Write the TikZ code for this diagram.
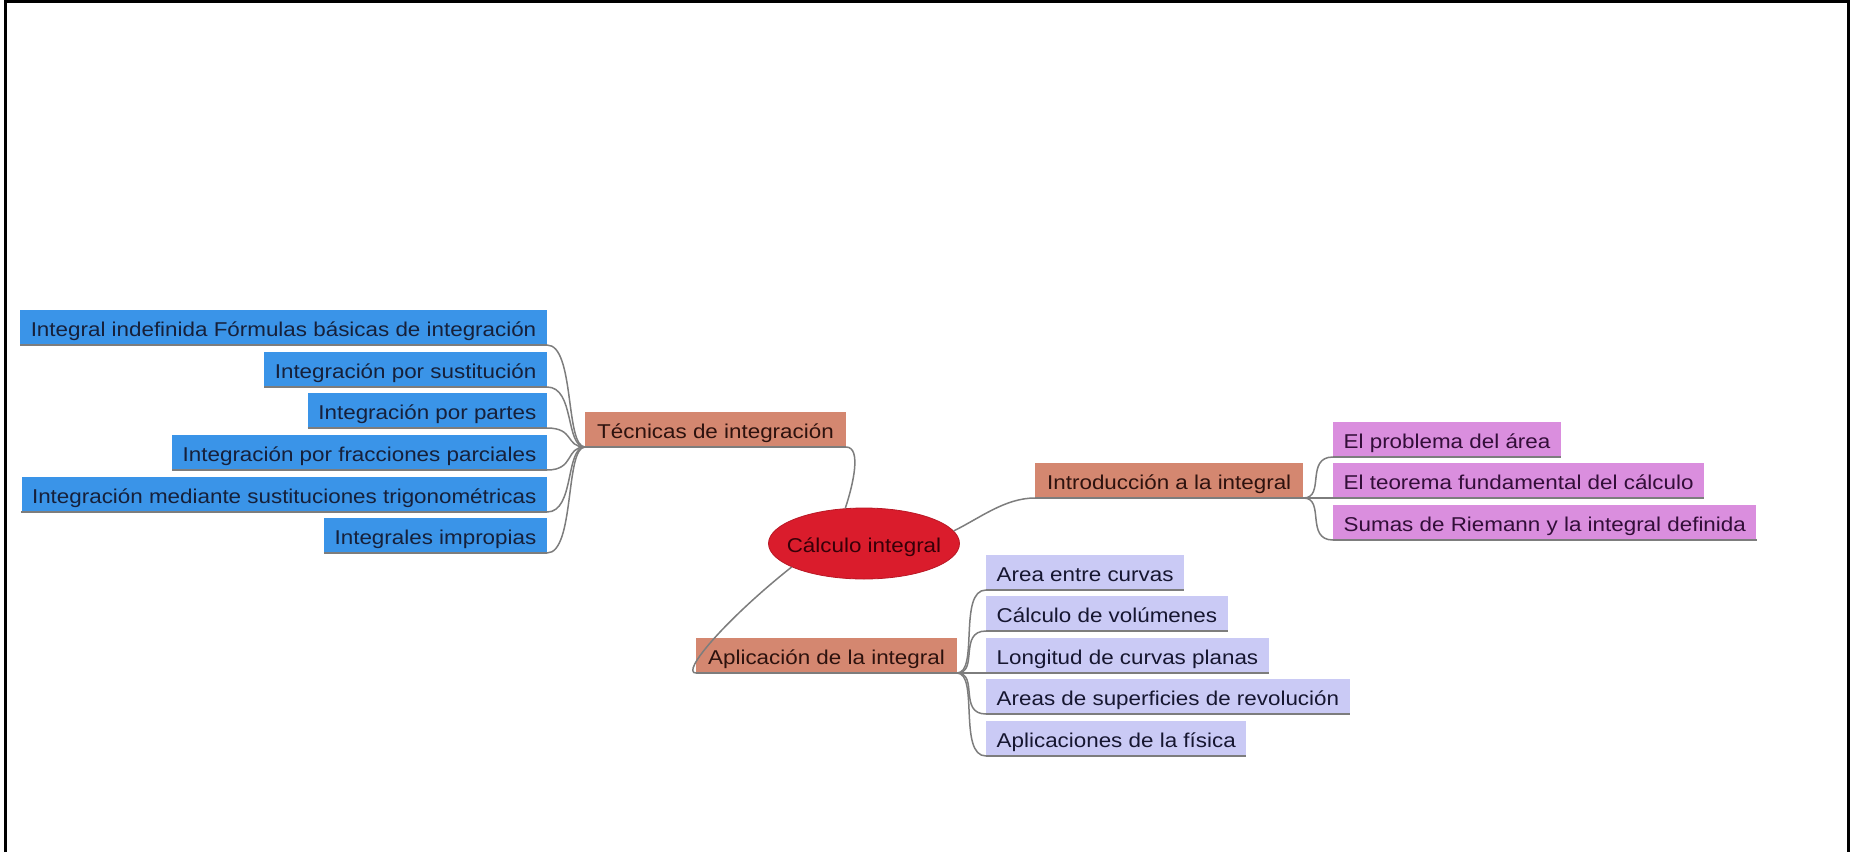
\documentclass[tikz,border=0pt]{standalone}
\usepackage{fontspec}
\setmainfont{Liberation Sans}[FakeStretch=1.12]
\usetikzlibrary{shapes.geometric}
\definecolor{bluebox}{RGB}{58,148,232}
\definecolor{bluetext}{RGB}{22,32,58}
\definecolor{brownbox}{RGB}{212,135,112}
\definecolor{browntext}{RGB}{45,18,14}
\definecolor{pinkbox}{RGB}{218,142,222}
\definecolor{pinktext}{RGB}{50,14,56}
\definecolor{lavbox}{RGB}{202,202,245}
\definecolor{lavtext}{RGB}{22,22,48}
\definecolor{redfill}{RGB}{218,28,44}
\definecolor{redtext}{RGB}{55,0,8}
\definecolor{linkgray}{RGB}{125,125,125}
\begin{document}
\begin{tikzpicture}[x=1pt,y=-1pt,
  every node/.style={font=\fontsize{20}{24}\selectfont},
  box/.style={rectangle, minimum height=35pt, inner ysep=0pt, inner xsep=10.5pt, text height=18pt, text depth=0pt},
  leftbox/.style={box, fill=bluebox, text=bluetext, anchor=south east},
  mainbox/.style={box, fill=brownbox, text=browntext, inner xsep=12pt, anchor=south west},
  pinkitem/.style={box, fill=pinkbox, text=pinktext, anchor=south west},
  lavitem/.style={box, fill=lavbox, text=lavtext, anchor=south west},
  centernode/.style={ellipse, fill=redfill, draw=redfill!85!black, line width=0.8pt, minimum width=191pt, minimum height=71pt, inner xsep=-14pt, inner ysep=0pt, text=redtext, text height=18pt, text depth=0pt},
  link/.style={draw=linkgray, line width=1.5pt},
  frameline/.style={draw=black, line width=3pt}
]
\useasboundingbox (0,0) rectangle (1850,852);
\draw[frameline] (5,852) -- (5,1.5) -- (1848.5,1.5) -- (1848.5,852);

% left children
\node[leftbox] (l1) at (547,345) {Integral indefinida Fórmulas básicas de integración};
\node[leftbox] (l2) at (547,387) {Integración por sustitución};
\node[leftbox] (l3) at (547,428) {Integración por partes};
\node[leftbox] (l4) at (547,470) {Integración por fracciones parciales};
\node[leftbox] (l5) at (547,512) {Integración mediante sustituciones trigonométricas};
\node[leftbox] (l6) at (547,553) {Integrales impropias};

% main branches
\node[mainbox] (tec) at (585,447) {Técnicas de integración};
\node[centernode] (c) at (864,543.5) {Cálculo integral};
\node[mainbox] (intro) at (1035,498) {Introducción a la integral};
\node[mainbox] (apl) at (696,673) {Aplicación de la integral};

% intro children
\node[pinkitem] (p1) at (1333,457) {El problema del área};
\node[pinkitem] (p2) at (1333,498) {El teorema fundamental del cálculo};
\node[pinkitem] (p3) at (1333,540) {Sumas de Riemann y la integral definida};

% aplicacion children
\node[lavitem] (a1) at (986,590) {Area entre curvas};
\node[lavitem] (a2) at (986,631) {Cálculo de volúmenes};
\node[lavitem] (a3) at (986,673) {Longitud de curvas planas};
\node[lavitem] (a4) at (986,714) {Areas de superficies de revolución};
\node[lavitem] (a5) at (986,756) {Aplicaciones de la física};

% underlines
\foreach \n in {l1,l2,l3,l4,l5,l6,tec,intro,apl,p1,p2,p3,a1,a2,a3,a4,a5}
  \draw[link] (\n.south west) -- (\n.south east);

% connectors
\foreach \n in {l1,l2,l3,l4,l5,l6}
  \draw[link] (\n.south east) .. controls ([xshift=28pt]\n.south east) and ([xshift=-20pt]tec.south west) .. (tec.south west);
\draw[link] (tec.south east) .. controls (862,447) and (853,485) .. (c.118);
\draw[link] (c.198) .. controls (725,620) and (680,673) .. (apl.south west);
\draw[link] (c.8) .. controls (980,518) and (1005,498) .. (intro.south west);
\foreach \n in {p1,p2,p3}
  \draw[link] (intro.south east) .. controls ([xshift=22pt]intro.south east) and ([xshift=-28pt]\n.south west) .. (\n.south west);
\foreach \n in {a1,a2,a3,a4,a5}
  \draw[link] (apl.south east) .. controls ([xshift=22pt]apl.south east) and ([xshift=-28pt]\n.south west) .. (\n.south west);
\end{tikzpicture}
\end{document}
